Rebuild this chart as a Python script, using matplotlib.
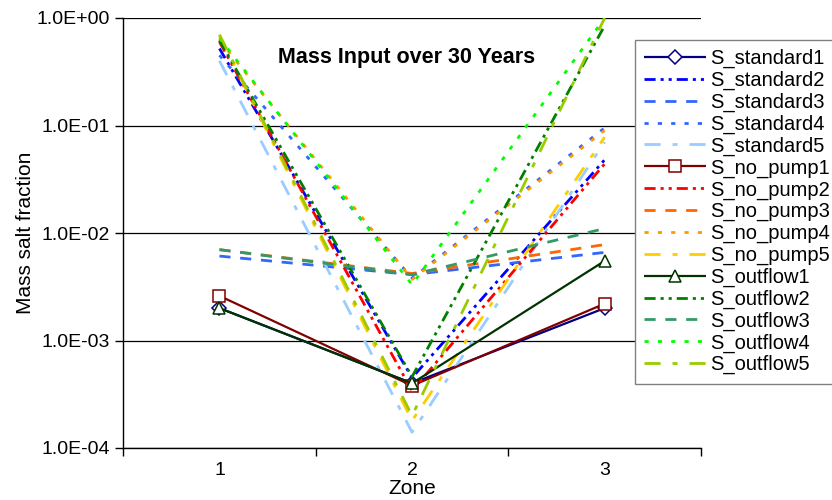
import matplotlib
matplotlib.use('Agg')
import matplotlib.pyplot as plt
from matplotlib.ticker import FixedLocator, NullLocator, FuncFormatter

plt.rcParams['font.family'] = ['Liberation Sans', 'DejaVu Sans']

zones = [1, 2, 3]

# valeurs (fraction massique de sel)
s_standard1 = [2.0e-3, 4.0e-4, 2.0e-3]
s_standard2 = [0.52, 4.5e-4, 4.8e-2]
s_standard3 = [6.1e-3, 4.1e-3, 6.6e-3]
s_standard4 = [0.45, 3.8e-3, 9.5e-2]
s_standard5 = [0.40, 1.4e-4, 7.0e-2]
s_no_pump1 = [2.6e-3, 3.8e-4, 2.2e-3]
s_no_pump2 = [0.60, 3.4e-4, 4.4e-2]
s_no_pump3 = [7.0e-3, 4.2e-3, 7.8e-3]
s_no_pump4 = [0.62, 3.7e-3, 9.0e-2]
s_no_pump5 = [0.68, 1.8e-4, 7.8e-2]
s_outflow1 = [2.0e-3, 4.0e-4, 5.5e-3]
s_outflow2 = [0.62, 4.6e-4, 0.85]
s_outflow3 = [7.0e-3, 4.1e-3, 1.1e-2]
s_outflow4 = [0.65, 3.3e-3, 1.0]
s_outflow5 = [0.70, 2.0e-4, 1.0]

names = ['S_standard1', 'S_standard2', 'S_standard3', 'S_standard4', 'S_standard5',
         'S_no_pump1', 'S_no_pump2', 'S_no_pump3', 'S_no_pump4', 'S_no_pump5',
         'S_outflow1', 'S_outflow2', 'S_outflow3', 'S_outflow4', 'S_outflow5']
series = [s_standard1, s_standard2, s_standard3, s_standard4, s_standard5,
          s_no_pump1, s_no_pump2, s_no_pump3, s_no_pump4, s_no_pump5,
          s_outflow1, s_outflow2, s_outflow3, s_outflow4, s_outflow5]

colors = ['#000080', '#0000FF', '#3366FF', '#3366FF', '#99CCFF',
          '#800000', '#FF0000', '#FF6600', '#FF9900', '#FFCC00',
          '#003300', '#008000', '#339966', '#00FF00', '#99CC00']

# styles de trait type Excel
solid = (0, ())
dash_dot_dot = (0, (4, 1.8, 1.1, 1.8, 1.1, 1.8))
dashed = (0, (4, 3.5))
dotted = (0, (1.5, 3.3))
dash_dot = (0, (5.8, 4.3, 1.8, 4.3))
styles = [solid, dash_dot_dot, dashed, dotted, dash_dot] * 3
markers = ['D', None, None, None, None, 's', None, None, None, None, '^', None, None, None, None]

fig = plt.figure(figsize=(8.32, 5.0), dpi=100)
ax = fig.add_axes([0.148, 0.104, 0.6945, 0.86])

for vals, name, c, ls, m in zip(series, names, colors, styles, markers):
    if m:
        ax.plot(zones, vals, color=c, linestyle=ls, linewidth=1.6, marker=m,
                markersize=8 if m != 'D' else 7, markerfacecolor='white',
                markeredgecolor=c, markeredgewidth=1.1, label=name)
    else:
        ax.plot(zones, vals, color=c, linestyle=ls, linewidth=2.0, label=name)

ax.set_yscale('log')
ax.set_ylim(1e-4, 1.0)
ax.set_xlim(0.5, 3.5)
ax.yaxis.set_major_locator(FixedLocator([1e-4, 1e-3, 1e-2, 1e-1, 1.0]))
ax.yaxis.set_minor_locator(NullLocator())
ax.yaxis.set_major_formatter(FuncFormatter(lambda v, p: '%.1E' % v))
ax.set_xticks(zones)
ax.set_xticks([0.5, 1.5, 2.5, 3.5], minor=True)
ax.tick_params(axis='x', which='major', length=0, labelsize=14, pad=10)
ax.tick_params(axis='x', which='minor', length=6, direction='out', width=1)
ax.tick_params(axis='y', which='major', length=6, direction='out', width=1, labelsize=14)

ax.grid(axis='y', color='black', linewidth=0.9)
ax.spines['top'].set_visible(False)
ax.spines['right'].set_visible(False)
for s in ['left', 'bottom']:
    ax.spines[s].set_linewidth(1.0)

ax.set_xlabel('Zone', fontsize=15, labelpad=0)
ax.set_ylabel('Mass salt fraction', fontsize=15, labelpad=1)

ax.text(0.491, 0.909, 'Mass Input over 30 Years', transform=ax.transAxes,
        ha='center', va='center', fontsize=15.5, fontweight='bold')

leg = fig.legend(loc='upper left', bbox_to_anchor=(635 / 832, 1 - 40 / 500),
                 fontsize=14.5, frameon=True, fancybox=False, borderaxespad=0,
                 handlelength=3.1, handletextpad=0.2, labelspacing=0.13,
                 borderpad=0.45)
leg.get_frame().set_edgecolor('#808080')
leg.get_frame().set_linewidth(1.0)
leg.get_frame().set_alpha(1)

fig.savefig('out.png', dpi=100)
